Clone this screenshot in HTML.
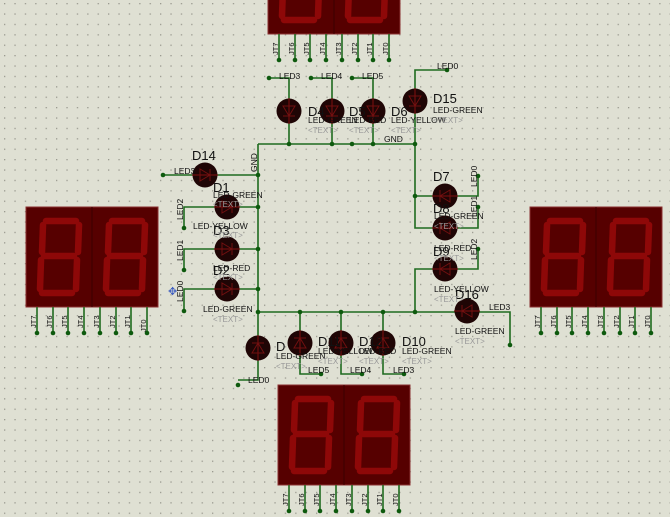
<!DOCTYPE html>
<html><head><meta charset="utf-8"><style>
html,body{margin:0;padding:0;background:#dfe0d3;}
svg{display:block;}
text{font-family:"Liberation Sans",sans-serif;}
.w{stroke:#1f6a1f;stroke-width:1.6;fill:none;}
.d{fill:#0e5a0e;}
.lbl{font-size:8.5px;fill:#111;}
.nm{font-size:13px;fill:#111;}
.ty{font-size:8.5px;fill:#111;}
.tx{font-size:8px;fill:#999;}
.pin{font-size:7.5px;fill:#111;}
</style></head><body>
<svg width="670" height="517" viewBox="0 0 670 517" xmlns="http://www.w3.org/2000/svg">
<defs>
<pattern id="g" width="10.4" height="10.4" patternUnits="userSpaceOnUse" x="4" y="3">
<rect x="0" y="0" width="1.3" height="1.3" fill="#9a9a90"/>
</pattern>
<g id="led">
<circle r="12.5" fill="#1f0505"/>
<line x1="-13" y1="0" x2="13" y2="0" stroke="#801010" stroke-width="1"/>
<path d="M-5,-6 L-5,6 L5,0 Z" fill="none" stroke="#701010" stroke-width="1"/>
<line x1="5" y1="-6" x2="5" y2="6" stroke="#701010" stroke-width="1"/>
</g>
<g id="digit">
<g stroke="#8e0808" stroke-width="6.5" stroke-linecap="round" fill="none">
<line x1="20" y1="14" x2="50" y2="14"/>
<line x1="18" y1="49" x2="48" y2="49"/>
<line x1="16" y1="86" x2="46" y2="86"/>
<line x1="17" y1="18" x2="16" y2="45"/>
<line x1="53" y1="18" x2="52" y2="45"/>
<line x1="15" y1="53" x2="14" y2="82"/>
<line x1="51" y1="53" x2="50" y2="82"/>
</g>
</g>
<g id="disp">
<rect x="0" y="0" width="132" height="100" fill="#560000" stroke="#8a3030" stroke-width="1"/>
<line x1="66" y1="0" x2="66" y2="100" stroke="#3a0000" stroke-width="1"/>
<use href="#digit" x="0" y="0"/>
<use href="#digit" x="66" y="0"/>
<g class="w">
<line x1="11" y1="100" x2="11" y2="126"/><line x1="27" y1="100" x2="27" y2="126"/>
<line x1="42" y1="100" x2="42" y2="126"/><line x1="58" y1="100" x2="58" y2="126"/>
<line x1="74" y1="100" x2="74" y2="126"/><line x1="90" y1="100" x2="90" y2="126"/>
<line x1="105" y1="100" x2="105" y2="126"/><line x1="121" y1="100" x2="121" y2="126"/>
</g>
<g class="d">
<circle cx="11" cy="126" r="2.3"/><circle cx="27" cy="126" r="2.3"/><circle cx="42" cy="126" r="2.3"/><circle cx="58" cy="126" r="2.3"/>
<circle cx="74" cy="126" r="2.3"/><circle cx="90" cy="126" r="2.3"/><circle cx="105" cy="126" r="2.3"/><circle cx="121" cy="126" r="2.3"/>
</g>
</g>
</defs>
<rect width="670" height="517" fill="url(#g)"/>

<use href="#disp" x="26" y="207"/>
<use href="#disp" x="530" y="207"/>
<use href="#disp" x="278" y="385"/>
<use href="#disp" x="268" y="-66"/>

<g class="pin">
<g transform="translate(26,207)">
<text transform="translate(10,121) rotate(-90)">JT7</text><text transform="translate(26,121) rotate(-90)">JT6</text><text transform="translate(41,121) rotate(-90)">JT5</text><text transform="translate(57,121) rotate(-90)">JT4</text><text transform="translate(73,121) rotate(-90)">JT3</text><text transform="translate(89,121) rotate(-90)">JT2</text><text transform="translate(104,121) rotate(-90)">JT1</text><text transform="translate(120,125) rotate(-90)">JT0</text>
</g>
<g transform="translate(530,207)">
<text transform="translate(10,121) rotate(-90)">JT7</text><text transform="translate(26,121) rotate(-90)">JT6</text><text transform="translate(41,121) rotate(-90)">JT5</text><text transform="translate(57,121) rotate(-90)">JT4</text><text transform="translate(73,121) rotate(-90)">JT3</text><text transform="translate(89,121) rotate(-90)">JT2</text><text transform="translate(104,121) rotate(-90)">JT1</text><text transform="translate(120,121) rotate(-90)">JT0</text>
</g>
<g transform="translate(278,385)">
<text transform="translate(10,121) rotate(-90)">JT7</text><text transform="translate(26,121) rotate(-90)">JT6</text><text transform="translate(41,121) rotate(-90)">JT5</text><text transform="translate(57,121) rotate(-90)">JT4</text><text transform="translate(73,121) rotate(-90)">JT3</text><text transform="translate(89,121) rotate(-90)">JT2</text><text transform="translate(104,121) rotate(-90)">JT1</text><text transform="translate(120,121) rotate(-90)">JT0</text>
</g>
<g transform="translate(268,-66)">
<text transform="translate(10,121) rotate(-90)">JT7</text><text transform="translate(26,121) rotate(-90)">JT6</text><text transform="translate(41,121) rotate(-90)">JT5</text><text transform="translate(57,121) rotate(-90)">JT4</text><text transform="translate(73,121) rotate(-90)">JT3</text><text transform="translate(89,121) rotate(-90)">JT2</text><text transform="translate(104,121) rotate(-90)">JT1</text><text transform="translate(120,121) rotate(-90)">JT0</text>
</g>
</g>

<g class="w">
<path d="M258,144 H415 M258,144 V380 H238 M258,312 H415 V269 H445 M415,144 V228 H445 M415,196 H445"/>
<path d="M269,78 H289 V144 M311,78 H332 V144 M352,78 H373 V144 M415,144 V70 H447"/>
<path d="M163,175 H258 M184,228 V207 H258 M184,270 V249 H258 M184,311 V289 H258"/>
<path d="M445,196 H478 V176 M445,228 H478 V207 M445,269 H478 V249 M415,312 H510 V343"/>
<path d="M300,312 V374 H321 M341,312 V374 H362 M383,312 V374 H404"/>
</g>
<g class="d">
<circle cx="269" cy="78" r="2.3"/><circle cx="311" cy="78" r="2.3"/><circle cx="352" cy="78" r="2.3"/><circle cx="447" cy="70" r="2.3"/>
<circle cx="289" cy="144" r="2.3"/><circle cx="332" cy="144" r="2.3"/><circle cx="352" cy="144" r="2.3"/><circle cx="373" cy="144" r="2.3"/><circle cx="415" cy="144" r="2.3"/>
<circle cx="163" cy="175" r="2.3"/><circle cx="258" cy="175" r="2.3"/><circle cx="258" cy="207" r="2.3"/><circle cx="258" cy="249" r="2.3"/><circle cx="258" cy="289" r="2.3"/><circle cx="258" cy="312" r="2.3"/>
<circle cx="184" cy="228" r="2.3"/><circle cx="184" cy="270" r="2.3"/><circle cx="184" cy="311" r="2.3"/>
<circle cx="415" cy="196" r="2.3"/><circle cx="415" cy="312" r="2.3"/>
<circle cx="478" cy="176" r="2.3"/><circle cx="478" cy="207" r="2.3"/><circle cx="478" cy="249" r="2.3"/><circle cx="510" cy="345" r="2.3"/>
<circle cx="300" cy="312" r="2.3"/><circle cx="341" cy="312" r="2.3"/><circle cx="383" cy="312" r="2.3"/>
<circle cx="321" cy="374" r="2.3"/><circle cx="362" cy="374" r="2.3"/><circle cx="404" cy="374" r="2.3"/><circle cx="238" cy="385" r="2.3"/>
</g>

<use href="#led" transform="translate(289,111) rotate(90)"/>
<use href="#led" transform="translate(332,111) rotate(90)"/>
<use href="#led" transform="translate(373,111) rotate(90)"/>
<use href="#led" transform="translate(415,101) rotate(90)"/>
<use href="#led" transform="translate(205,175)"/>
<use href="#led" transform="translate(227,207)"/>
<use href="#led" transform="translate(227,249)"/>
<use href="#led" transform="translate(227,289)"/>
<use href="#led" transform="translate(445,196) rotate(180)"/>
<use href="#led" transform="translate(445,228) rotate(180)"/>
<use href="#led" transform="translate(445,269) rotate(180)"/>
<use href="#led" transform="translate(467,311) rotate(180)"/>
<use href="#led" transform="translate(258,348) rotate(-90)"/>
<use href="#led" transform="translate(300,343) rotate(-90)"/>
<use href="#led" transform="translate(341,343) rotate(-90)"/>
<use href="#led" transform="translate(383,343) rotate(-90)"/>

<g class="lbl">
<text x="279" y="79">LED3</text><text x="321" y="79">LED4</text><text x="362" y="79">LED5</text><text x="437" y="69">LED0</text>
<text x="384" y="142">GND</text>
<text transform="translate(257,172) rotate(-90)">GND</text>
<text x="174" y="174">LED3</text>
<text transform="translate(183,220) rotate(-90)">LED2</text>
<text transform="translate(183,261) rotate(-90)">LED1</text>
<text transform="translate(183,302) rotate(-90)">LED0</text>
<text transform="translate(477,187) rotate(-90)">LED0</text>
<text transform="translate(477,217) rotate(-90)">LED1</text>
<text transform="translate(477,260) rotate(-90)">LED2</text>
<text x="489" y="310">LED3</text>
<text x="308" y="373">LED5</text><text x="350" y="373">LED4</text><text x="393" y="373">LED3</text>
<text x="248" y="383">LED0</text>
</g>
<g class="nm">
<text x="308" y="116">D4</text><text x="349" y="116">D5</text><text x="391" y="116">D6</text><text x="433" y="103">D15</text>
<text x="192" y="160">D14</text><text x="213" y="192">D1</text><text x="213" y="235">D3</text><text x="213" y="275">D2</text>
<text x="433" y="181">D7</text><text x="433" y="213">D8</text><text x="433" y="256">D9</text><text x="455" y="299">D16</text>
<text x="276" y="351">D</text><text x="318" y="346">D11</text><text x="359" y="346">D12</text><text x="402" y="346">D10</text>
</g>
<g class="ty">
<text x="308" y="123">LED-GREEN</text><text x="349" y="123">LED-RED</text><text x="391" y="123">LED-YELLOW</text><text x="433" y="113">LED-GREEN</text>
<text x="213" y="198">LED-GREEN</text><text x="193" y="229">LED-YELLOW</text><text x="213" y="271">LED-RED</text><text x="203" y="312">LED-GREEN</text>
<text x="434" y="219">LED-GREEN</text><text x="434" y="251">LED-RED</text><text x="434" y="292">LED-YELLOW</text><text x="455" y="334">LED-GREEN</text>
<text x="276" y="359">LED-GREEN</text><text x="318" y="354">LED-YELLOW</text><text x="359" y="354">LED-RED</text><text x="402" y="354">LED-GREEN</text>
</g>
<g class="tx">
<text x="308" y="133">&lt;TEXT&gt;</text><text x="349" y="133">&lt;TEXT&gt;</text><text x="391" y="133">&lt;TEXT&gt;</text><text x="433" y="123">&lt;TEXT&gt;</text>
<text x="213" y="207">&lt;TEXT&gt;</text><text x="213" y="238">&lt;TEXT&gt;</text><text x="213" y="280">&lt;TEXT&gt;</text><text x="213" y="322">&lt;TEXT&gt;</text>
<text x="434" y="229">&lt;TEXT&gt;</text><text x="434" y="261">&lt;TEXT&gt;</text><text x="434" y="302">&lt;TEXT&gt;</text><text x="455" y="344">&lt;TEXT&gt;</text>
<text x="276" y="369">&lt;TEXT&gt;</text><text x="318" y="364">&lt;TEXT&gt;</text><text x="359" y="364">&lt;TEXT&gt;</text><text x="402" y="364">&lt;TEXT&gt;</text>
</g>
<text x="168" y="295" font-size="11" fill="#4060c0">✥</text>
</svg>
</body></html>
